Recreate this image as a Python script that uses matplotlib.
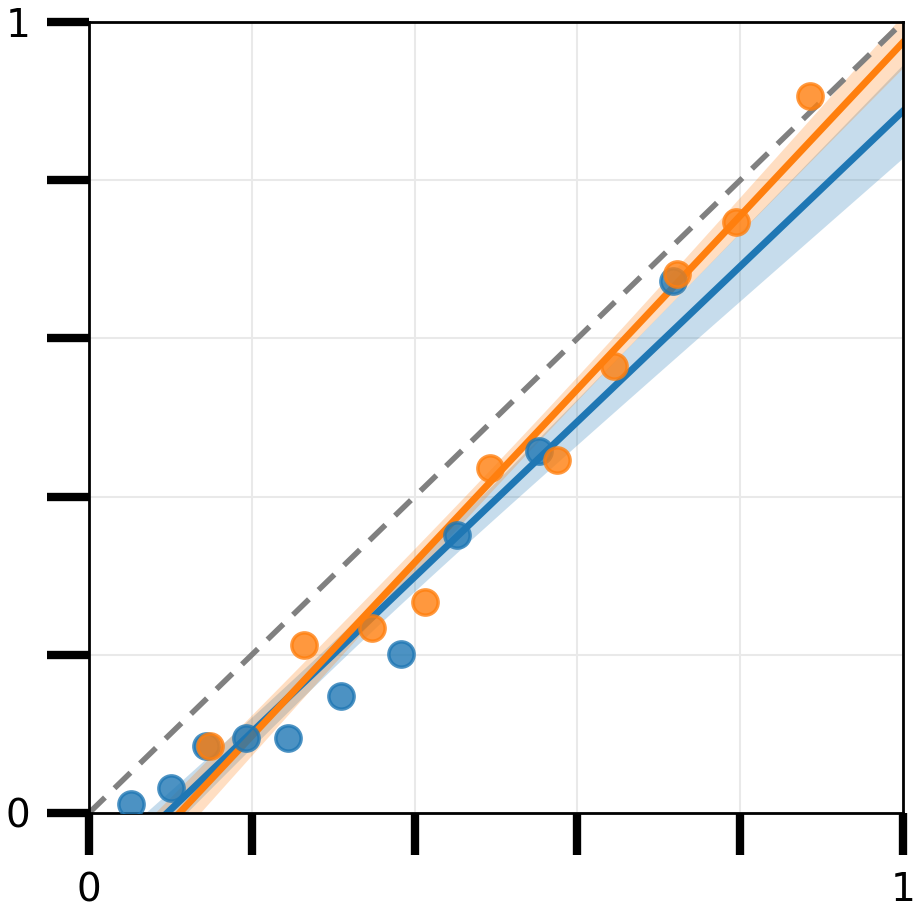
import matplotlib
matplotlib.use("Agg")
import matplotlib.pyplot as plt
import numpy as np

blue_x = [0.052, 0.101, 0.144, 0.193, 0.245, 0.310, 0.383, 0.452, 0.553, 0.717]
blue_y = [0.011, 0.032, 0.085, 0.095, 0.095, 0.148, 0.201, 0.352, 0.458, 0.673]
orange_x = [0.149, 0.264, 0.348, 0.413, 0.493, 0.575, 0.645, 0.722, 0.795, 0.886]
orange_y = [0.085, 0.212, 0.234, 0.267, 0.436, 0.446, 0.565, 0.681, 0.747, 0.907]

ticks = [0, 0.2, 0.4, 0.6, 0.8, 1.0]
tick_labels = ['0', '', '', '', '', '1']

fig = plt.figure(figsize=(9.21, 9.16), dpi=100)
ax = fig.add_axes([89/921, 1-813/916, 814/921, 791/916])
ax.set_xlim(0, 1)
ax.set_ylim(0, 1)

ax.grid(True, color='#e9e9e9', linewidth=1.5, zorder=0)
ax.set_axisbelow(True)

ax.plot([0, 1], [0, 1], color='gray', linestyle=(0, (4, 2.4)), linewidth=4, zorder=2.2)

grid = np.linspace(0, 1, 200)
K = 1.0  # one standard error band
for xs, ys, c in [(blue_x, blue_y, '#1f77b4'), (orange_x, orange_y, '#ff7f0e')]:
    x = np.array(xs); y = np.array(ys)
    n = len(x)
    b, a = np.polyfit(x, y, 1)
    fit = a + b * grid
    resid = y - (a + b * x)
    s = np.sqrt(np.sum(resid**2) / (n - 2))
    sxx = np.sum((x - x.mean())**2)
    se = s * np.sqrt(1/n + (grid - x.mean())**2 / sxx)
    ax.scatter(x, y, s=330, color=c, alpha=0.8, linewidths=2.5, zorder=3)
    ax.fill_between(grid, fit - K*se, fit + K*se, color=c, alpha=0.25, linewidth=0, zorder=2)
    ax.plot(grid, fit, color=c, linewidth=5, zorder=2.5)

ax.set_xlim(0, 1)
ax.set_ylim(0, 1)
ax.set_xticks(ticks)
ax.set_xticklabels(tick_labels)
ax.set_yticks(ticks)
ax.set_yticklabels(tick_labels)
ax.tick_params(axis='both', length=30, width=6, labelsize=28, direction='out', color='black')
ax.tick_params(axis='x', pad=12)
ax.tick_params(axis='y', pad=12)
for s in ax.spines.values():
    s.set_linewidth(2)
    s.set_color('black')

fig.savefig('out.png', dpi=100)
